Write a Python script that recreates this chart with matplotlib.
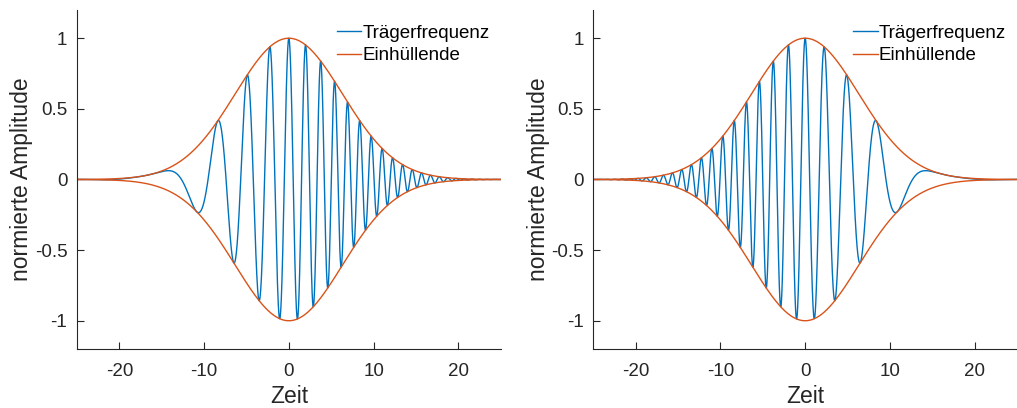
import numpy as np
import matplotlib
matplotlib.use("Agg")
import matplotlib.pyplot as plt

# pulse parameters: gaussian envelope exp(-t^2 / env_width) and
# chirped carrier cos(omega0 * t + chirp * t^2)
env_width = 80.0
omega0 = 3.0
chirp = 0.09
t_range = [-25, 25]
x_ticks = [-20, -10, 0, 10, 20]
y_ticks = [-1, -0.5, 0, 0.5, 1]
y_tick_labels = ["-1", "-0.5", "0", "0.5", "1"]
labels = ["Trägerfrequenz", "Einhüllende"]

plt.rcParams["font.family"] = ["Liberation Sans", "DejaVu Sans"]
plt.rcParams["axes.unicode_minus"] = False

t = np.linspace(t_range[0], t_range[1], 6001)
envelope = np.exp(-t ** 2 / env_width)
carrier_up = envelope * np.cos(omega0 * t + chirp * t ** 2)
carrier_down = envelope * np.cos(-omega0 * t + chirp * t ** 2)

blue = "#0072BD"
orange = "#D95319"
dark = "#262626"

fig = plt.figure(figsize=(10.17, 4.08), dpi=100)
ax1 = fig.add_axes([0.0757, 0.1446, 0.4166, 0.831])
ax2 = fig.add_axes([0.5834, 0.1446, 0.4166, 0.831])

for ax, carrier in [(ax1, carrier_up), (ax2, carrier_down)]:
    ax.plot(t, carrier, color=blue, lw=1.0, label=labels[0])
    ax.plot(t, envelope, color=orange, lw=1.0, label=labels[1])
    ax.plot(t, -envelope, color=orange, lw=1.0)
    ax.set_xlim(t_range)
    ax.set_ylim(-1.2, 1.2)
    ax.set_xticks(x_ticks)
    ax.set_yticks(y_ticks)
    ax.set_yticklabels(y_tick_labels)
    for s in ["top", "right"]:
        ax.spines[s].set_visible(False)
    for s in ["left", "bottom"]:
        ax.spines[s].set_color(dark)
        ax.spines[s].set_linewidth(0.8)
    ax.tick_params(direction="in", length=5, width=0.8, colors=dark,
                   labelsize=13.5)
    ax.tick_params(axis="x", pad=10)
    ax.tick_params(axis="y", pad=7)
    ax.set_xlabel("Zeit", fontsize=16.5, color=dark, labelpad=4)
    ax.set_ylabel("normierte Amplitude", fontsize=16.5, color=dark, labelpad=1)
    leg = ax.legend(loc="upper right", frameon=False, fontsize=13.5,
                    handlelength=1.3, handletextpad=0.05, labelspacing=0.3,
                    borderaxespad=0.2, bbox_to_anchor=(1.0, 0.99))
    for txt in leg.get_texts():
        txt.set_color("black")

fig.savefig("out.png", dpi=100, facecolor="white")
